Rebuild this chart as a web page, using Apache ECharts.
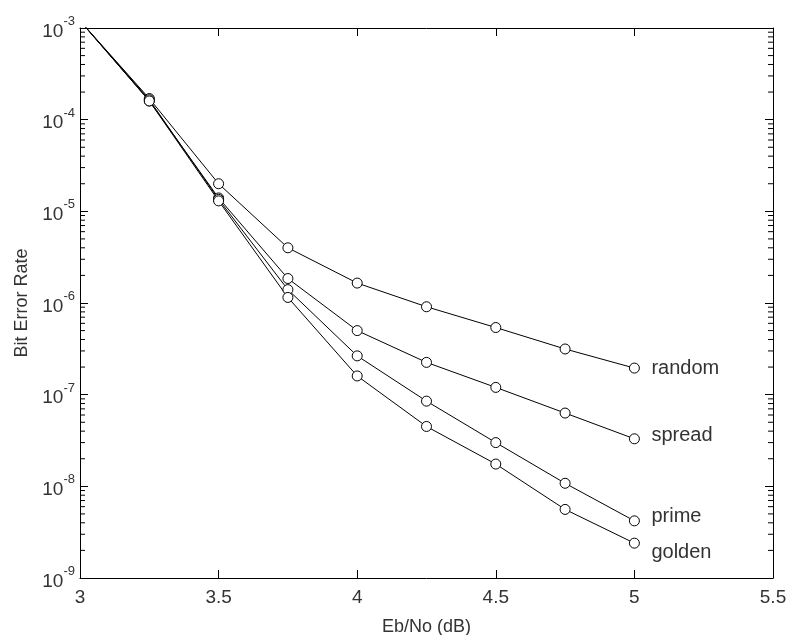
<!DOCTYPE html>
<html>
<head>
<meta charset="utf-8">
<script src="https://cdn.jsdelivr.net/npm/echarts@6/dist/echarts.min.js"></script>
<style>
  html, body { margin: 0; padding: 0; background: #fff; }
  #chart { width: 789px; height: 635px; }
</style>
</head>
<body>
<div id="chart"></div>
<script>
// Eb/No sweep (dB)
const ebno = [3, 3.25, 3.5, 3.75, 4, 4.25, 4.5, 4.75, 5];

// Bit error rate per interleaver type
const berRandom = [1.2e-3, 1.7e-4, 2.0e-5, 4.0e-6, 1.65e-6, 9.1e-7, 5.4e-7, 3.15e-7, 1.95e-7];
const berSpread = [1.2e-3, 1.6e-4, 1.4e-5, 1.85e-6, 5.0e-7, 2.25e-7, 1.2e-7, 6.3e-8, 3.3e-8];
const berPrime  = [1.2e-3, 1.65e-4, 1.35e-5, 1.4e-6, 2.65e-7, 8.5e-8, 3.0e-8, 1.08e-8, 4.2e-9];
const berGolden = [1.2e-3, 1.6e-4, 1.3e-5, 1.15e-6, 1.6e-7, 4.5e-8, 1.75e-8, 5.6e-9, 2.4e-9];

const seriesNames = ['random', 'spread', 'prime', 'golden'];
const seriesData = [berRandom, berSpread, berPrime, berGolden];
const endLabelShift = [0, -3, -4, 9];

// Axis ranges
const xMin = 3, xMax = 5.5, xStep = 0.5;
const yMinExp = -9, yMaxExp = -3;

// Minor log ticks: 2..9 x 10^n within each decade
const minorTicks = [];
for (let e = yMinExp; e < yMaxExp; e++) {
  for (let k = 2; k <= 9; k++) minorTicks.push([xMin, k * Math.pow(10, e)]);
}

const FONT = '"Liberation Sans", Arial, Helvetica, sans-serif';
const TEXT = '#333';

const chart = echarts.init(document.getElementById('chart'), null, { renderer: 'canvas' });

function expLabel(v) {
  const e = Math.round(Math.log10(v));
  return '{b|10}{s|' + e + '}';
}

const logAxisBase = {
  type: 'log',
  logBase: 10,
  min: Math.pow(10, yMinExp),
  max: Math.pow(10, yMaxExp),
  interval: 1,
  splitNumber: 6,
  axisLine: { show: true, lineStyle: { color: '#000', width: 1 } },
  axisTick: { show: true, inside: true, length: 8, lineStyle: { color: '#000' } },
  splitLine: { show: false }
};

const option = {
  backgroundColor: '#fff',
  animation: false,
  grid: { left: 80, right: 16, top: 28, bottom: 57, outerBoundsMode: 'none' },
  xAxis: [
    {
      type: 'value',
      min: xMin, max: xMax, interval: xStep,
      position: 'bottom',
      name: 'Eb/No (dB)',
      nameLocation: 'middle',
      nameGap: 40,
      nameTextStyle: { fontFamily: FONT, fontSize: 18, color: TEXT },
      axisLine: { show: true, onZero: false, lineStyle: { color: '#000', width: 1 } },
      axisTick: { show: true, inside: true, length: 8, lineStyle: { color: '#000' } },
      axisLabel: { fontFamily: FONT, fontSize: 19, color: TEXT, margin: 10 },
      splitLine: { show: false }
    },
    {
      type: 'value',
      min: xMin, max: xMax, interval: xStep,
      position: 'top',
      axisLine: { show: true, onZero: false, lineStyle: { color: '#000', width: 1 } },
      axisTick: { show: true, inside: true, length: 8, lineStyle: { color: '#000' } },
      axisLabel: { show: false },
      splitLine: { show: false }
    }
  ],
  yAxis: [
    Object.assign({}, logAxisBase, {
      position: 'left',
      name: 'Bit Error Rate',
      nameLocation: 'middle',
      nameGap: 49,
      nameTextStyle: { fontFamily: FONT, fontSize: 18, color: TEXT },
      axisLabel: {
        margin: 5,
        formatter: expLabel,
        rich: {
          b: { fontFamily: FONT, fontSize: 19, color: TEXT, verticalAlign: 'bottom', lineHeight: 26 },
          s: { fontFamily: FONT, fontSize: 13, color: TEXT, verticalAlign: 'top', lineHeight: 26 }
        }
      }
    }),
    Object.assign({}, logAxisBase, {
      position: 'right',
      axisLabel: { show: false }
    })
  ],
  series: seriesNames.map((name, i) => ({
    name: name,
    type: 'line',
    xAxisIndex: 0,
    yAxisIndex: 0,
    data: ebno.map((x, j) => [x, seriesData[i][j]]),
    clip: true,
    symbol: 'circle',
    symbolSize: 10,
    showSymbol: true,
    itemStyle: { color: '#fff', borderColor: '#000', borderWidth: 1 },
    lineStyle: { color: '#000', width: 1 },
    endLabel: {
      show: true,
      formatter: '{a}',
      distance: 17,
      offset: [0, endLabelShift[i]],
      fontFamily: FONT,
      fontSize: 20,
      color: TEXT
    },
    z: 3
  })).concat([{
    type: 'custom',
    name: 'minorTicks',
    xAxisIndex: 0,
    yAxisIndex: 0,
    silent: true,
    clip: false,
    data: minorTicks,
    encode: { x: 0, y: 1 },
    renderItem: function (params, api) {
      const cs = params.coordSys;
      const y = api.coord([api.value(0), api.value(1)])[1];
      const len = 5;
      return {
        type: 'group',
        children: [
          { type: 'line', shape: { x1: cs.x, y1: y, x2: cs.x + len, y2: y }, style: { stroke: '#000', lineWidth: 1 } },
          { type: 'line', shape: { x1: cs.x + cs.width - len, y1: y, x2: cs.x + cs.width, y2: y }, style: { stroke: '#000', lineWidth: 1 } }
        ]
      };
    },
    z: 2
  }])
};

chart.setOption(option);
</script>
</body>
</html>
